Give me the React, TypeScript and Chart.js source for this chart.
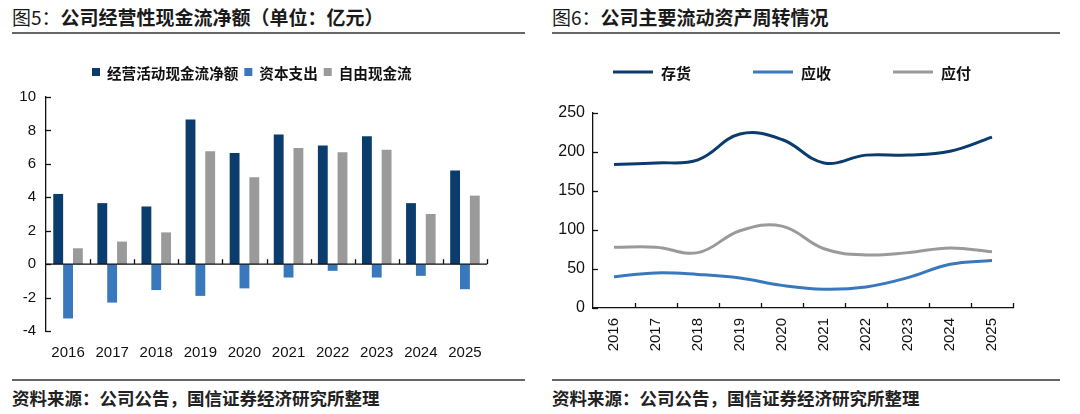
import React, { useEffect, useRef } from "react";
import { Chart, registerables } from "chart.js";

Chart.register(...registerables);

// ---------- data ----------
const years = ["2016", "2017", "2018", "2019", "2020", "2021", "2022", "2023", "2024", "2025"];

const cfLabels = ["经营活动现金流净额", "资本支出", "自由现金流"];
const operatingCF = [4.2, 3.65, 3.45, 8.65, 6.65, 7.75, 7.1, 7.65, 3.65, 5.6];
const capex = [-3.25, -2.3, -1.55, -1.9, -1.45, -0.8, -0.4, -0.8, -0.7, -1.5];
const freeCF = [0.95, 1.35, 1.9, 6.75, 5.2, 6.95, 6.7, 6.85, 3.0, 4.1];

const turnLabels = ["存货", "应收", "应付"];
const inventory = [184, 186, 190, 223, 216, 186, 196, 196, 201, 219];
const receivable = [40, 45, 43, 38.5, 29, 24, 27, 39, 56, 61];
const payable = [78, 78, 71, 99, 105, 76, 68, 71, 77, 72];

const cfAxis = { min: -4, max: 10, step: 2 };
const turnAxis = { min: 0, max: 250, step: 50 };

// ---------- styles ----------
const NUM_FONT = '"Liberation Sans", Arial, "Noto Sans CJK SC", sans-serif';
const CJK_FONT = '"Noto Sans CJK SC", "Liberation Sans", sans-serif';
const DARK = "#0a3c6e";
const MID = "#3a78bd";
const GRAY = "#9a9a9a";

// inner ticks + zero line plugin
const innerTicks = {
  id: "innerTicks",
  afterDatasetsDraw(chart: any, _a: any, opts: any) {
    const { ctx, chartArea, scales } = chart;
    const xs = scales.x;
    const ys = scales.y;
    ctx.save();
    ctx.strokeStyle = "#111";
    ctx.lineWidth = 1.3;
    ys.ticks.forEach((_t: any, i: number) => {
      const py = Math.round(ys.getPixelForTick(i)) + 0.5;
      ctx.beginPath();
      ctx.moveTo(chartArea.left, py);
      ctx.lineTo(chartArea.left + 5, py);
      ctx.stroke();
    });
    const baseY = opts.zeroLine ? ys.getPixelForValue(0) : chartArea.bottom;
    if (opts.zeroLine) {
      ctx.beginPath();
      ctx.moveTo(chartArea.left, baseY);
      ctx.lineTo(chartArea.right, baseY);
      ctx.stroke();
    }
    const n = xs.ticks.length;
    for (let i = 0; i < n; i++) {
      const px = Math.round(xs.getPixelForValue(i + 0.5)) + 0.5;
      ctx.beginPath();
      ctx.moveTo(px, baseY);
      ctx.lineTo(px, baseY - 5);
      ctx.stroke();
    }
    ctx.restore();
  },
};

// custom legend
const customLegend = {
  id: "customLegend",
  afterDraw(chart: any, _a: any, opts: any) {
    const { ctx } = chart;
    ctx.save();
    ctx.font = `bold ${opts.fontSize}px ${CJK_FONT}`;
    ctx.textBaseline = "middle";
    let x = opts.x;
    const y = opts.y;
    chart.data.datasets.forEach((ds: any) => {
      const color = ds.legendColor;
      if (opts.kind === "box") {
        ctx.fillStyle = color;
        ctx.fillRect(x, y - opts.mark / 2, opts.mark, opts.mark);
      } else {
        ctx.strokeStyle = color;
        ctx.lineWidth = 3;
        ctx.beginPath();
        ctx.moveTo(x, y);
        ctx.lineTo(x + opts.mark, y);
        ctx.stroke();
      }
      x += opts.mark + opts.textGap;
      ctx.fillStyle = "#111";
      ctx.fillText(ds.label, x, y + 1);
      x += ctx.measureText(ds.label).width + opts.itemGap;
    });
    ctx.restore();
  },
};

function CashFlowChart() {
  const ref = useRef<HTMLCanvasElement | null>(null);
  useEffect(() => {
    if (!ref.current) return;
    const chart = new Chart(ref.current, {
      type: "bar",
      data: {
        labels: years,
        datasets: [
          { label: cfLabels[0], data: operatingCF, backgroundColor: DARK, legendColor: DARK } as any,
          { label: cfLabels[1], data: capex, backgroundColor: MID, legendColor: MID } as any,
          { label: cfLabels[2], data: freeCF, backgroundColor: GRAY, legendColor: GRAY } as any,
        ],
      },
      plugins: [innerTicks, customLegend],
      options: {
        animation: false,
        responsive: true,
        maintainAspectRatio: false,
        datasets: { bar: { categoryPercentage: 0.67, barPercentage: 1.0 } },
        layout: { padding: { top: 57, right: 53, bottom: 0, left: 0 } },
        plugins: {
          legend: { display: false },
          tooltip: { enabled: false },
          innerTicks: { zeroLine: true },
          customLegend: { x: 92, y: 32, kind: "box", mark: 8, textGap: 7, itemGap: 6, fontSize: 14.6 },
        } as any,
        scales: {
          x: {
            grid: { display: false, drawTicks: false },
            border: { display: false },
            ticks: { color: "#111", font: { family: NUM_FONT, size: 15 }, padding: 13, maxRotation: 0 },
            afterFit: (s: any) => { s.height = 39; },
          },
          y: {
            min: cfAxis.min,
            max: cfAxis.max,
            grid: { display: false, drawTicks: false },
            border: { display: true, color: "#111", width: 1.3 },
            ticks: { stepSize: cfAxis.step, color: "#111", font: { family: NUM_FONT, size: 15 }, padding: 10 },
            afterFit: (s: any) => { s.width = 46; },
          },
        },
      },
    });
    return () => chart.destroy();
  }, []);
  return <canvas ref={ref} />;
}

function TurnoverChart() {
  const ref = useRef<HTMLCanvasElement | null>(null);
  useEffect(() => {
    if (!ref.current) return;
    const mk = (label: string, data: number[], color: string) => ({
      label,
      data,
      borderColor: color,
      backgroundColor: color,
      legendColor: color,
      borderWidth: 3,
      pointRadius: 0,
      tension: 0.4,
      fill: false,
    });
    const chart = new Chart(ref.current, {
      type: "line",
      data: {
        labels: years,
        datasets: [
          mk(turnLabels[0], inventory, DARK) as any,
          mk(turnLabels[1], receivable, MID) as any,
          mk(turnLabels[2], payable, GRAY) as any,
        ],
      },
      plugins: [innerTicks, customLegend],
      options: {
        animation: false,
        responsive: true,
        maintainAspectRatio: false,
        layout: { padding: { top: 73, right: 67, bottom: 0, left: 0 } },
        plugins: {
          legend: { display: false },
          tooltip: { enabled: false },
          innerTicks: { zeroLine: false },
          customLegend: { x: 73, y: 32, kind: "line", mark: 40, textGap: 8, itemGap: 62, fontSize: 15 },
        } as any,
        scales: {
          x: {
            offset: true,
            grid: { display: false, drawTicks: false },
            border: { display: true, color: "#111", width: 1.3 },
            ticks: { color: "#111", font: { family: NUM_FONT, size: 15 }, padding: 10, maxRotation: 90, minRotation: 90 },
            afterFit: (s: any) => { s.height = 62; },
          },
          y: {
            min: turnAxis.min,
            max: turnAxis.max,
            grid: { display: false, drawTicks: false },
            border: { display: true, color: "#111", width: 1.3 },
            ticks: { stepSize: turnAxis.step, color: "#111", font: { family: NUM_FONT, size: 16 }, padding: 8 },
            afterFit: (s: any) => { s.width = 53; },
          },
        },
      },
    });
    return () => chart.destroy();
  }, []);
  return <canvas ref={ref} />;
}

const titleStyle: React.CSSProperties = {
  position: "absolute",
  top: 5,
  fontFamily: CJK_FONT,
  fontSize: 19,
  fontWeight: 700,
  color: "#1a1a1a",
  whiteSpace: "nowrap",
  lineHeight: "24px",
};
const sourceStyle: React.CSSProperties = {
  position: "absolute",
  top: 386,
  fontFamily: CJK_FONT,
  fontSize: 17.5,
  fontWeight: 700,
  color: "#222",
  whiteSpace: "nowrap",
  lineHeight: "24px",
};
const ruleStyle = (left: number, width: number, top: number): React.CSSProperties => ({
  position: "absolute",
  left,
  top,
  width,
  height: 2,
  background: "#666",
});

export default function App() {
  useEffect(() => {
    document.body.style.margin = "0";
    document.body.style.background = "#fff";
  }, []);
  return (
    <div style={{ position: "relative", width: 1080, height: 414, background: "#fff", overflow: "hidden" }}>
      <div style={{ ...titleStyle, left: 12 }}>
        <span style={{ fontWeight: 400 }}>图5：</span>公司经营性现金流净额（单位：亿元）
      </div>
      <div style={{ ...titleStyle, left: 552 }}>
        <span style={{ fontWeight: 400 }}>图6：</span>公司主要流动资产周转情况
      </div>
      <div style={ruleStyle(12, 513, 32)} />
      <div style={ruleStyle(552, 508, 32)} />
      <div style={{ position: "absolute", left: 0, top: 40, width: 540, height: 330 }}>
        <CashFlowChart />
      </div>
      <div style={{ position: "absolute", left: 540, top: 40, width: 540, height: 330 }}>
        <TurnoverChart />
      </div>
      <div style={ruleStyle(12, 513, 379)} />
      <div style={ruleStyle(552, 508, 379)} />
      <div style={{ ...sourceStyle, left: 12 }}>资料来源：公司公告，国信证券经济研究所整理</div>
      <div style={{ ...sourceStyle, left: 552 }}>资料来源：公司公告，国信证券经济研究所整理</div>
    </div>
  );
}
